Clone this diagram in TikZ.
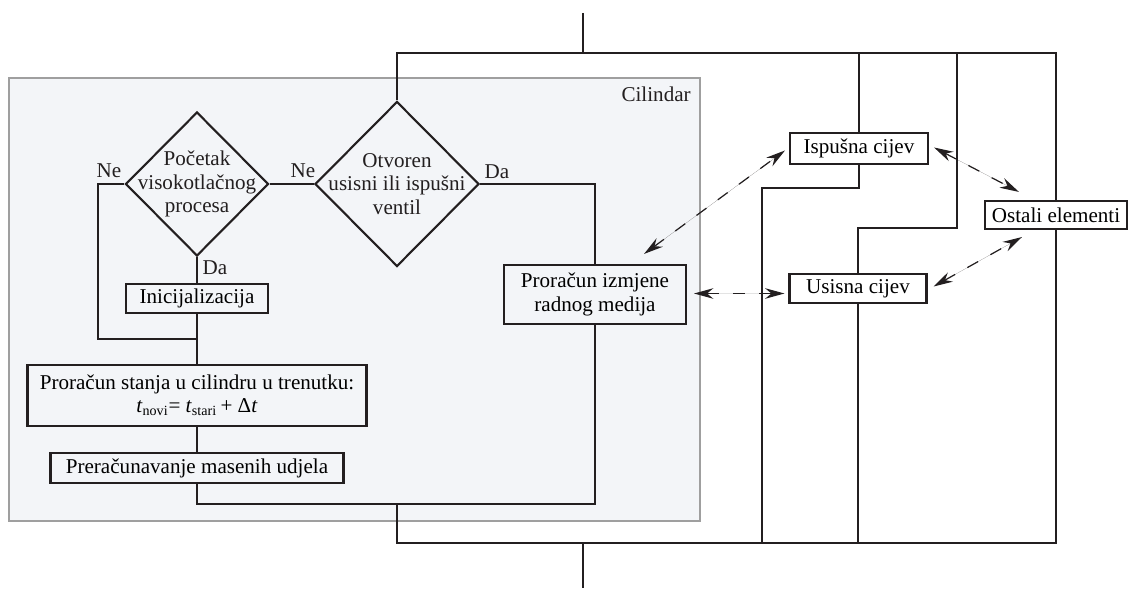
\documentclass[tikz,border=0pt]{standalone}
\usepackage{fontspec}
\setmainfont{Liberation Serif}
\usetikzlibrary{shapes.geometric,arrows.meta}
\definecolor{cylfill}{RGB}{243,245,248}
\definecolor{ink}{RGB}{35,31,32}
\tikzset{
  box/.style  = {rectangle, draw=ink, line width=1.2pt, inner sep=2pt, align=center},
  dia/.style  = {diamond, draw=ink, line width=1.2pt, inner sep=0pt, aspect=1},
  wire/.style = {draw=ink, line width=1.2pt},
  darr/.style = {{Stealth[length=11pt,width=6pt]}-{Stealth[length=11pt,width=6pt]},
                 draw=ink, fill=ink, dash pattern=on 7pt off 8pt, line width=0.7pt},
  lab/.style  = {inner sep=1pt, text=ink}
}

\begin{document}
\begin{tikzpicture}[x=0.02cm, y=-0.02cm, font=\fontsize{12}{13.2}\selectfont]
  \useasboundingbox (0,0) rectangle (1128,590);
  % cylinder frame
  \filldraw[fill=cylfill, draw=gray!75, line width=0.7pt] (9,78) rectangle (700,521);
  \node[lab, anchor=base east, inner sep=0pt] (cyl) at (691,102) {Cilindar};

  % flow inside the cylinder
  \node[dia, minimum width=2.86cm, minimum height=2.88cm] (d1) at (197,184) {};
  \node[lab, align=center] (d1t) at (d1.center) {Početak\\visokotlačnog\\procesa};
  \node[dia, minimum width=3.28cm, minimum height=3.3cm] (d2) at (397,184) {};
  \node[lab, align=center] (d2t) at (d2.center) {Otvoren\\usisni ili ispušni\\ventil};
  \node[box, minimum width=2.84cm, minimum height=0.58cm] (ini) at (197,298.5) {Inicijalizacija};
  \node[box, minimum width=6.78cm, minimum height=1.22cm] (pst) at (197,395.5)
    {Proračun stanja u cilindru u trenutku:\\
     \textit{t}\textsubscript{novi}= \textit{t}\textsubscript{stari}\,+ Δ\textit{t}};
  \node[box, minimum width=5.86cm, minimum height=0.6cm] (pmu) at (197,468) {Preračunavanje masenih udjela};
  \node[box, minimum width=3.64cm, minimum height=1.18cm] (izm) at (595,294.5) {Proračun izmjene\\radnog medija};

  % outer elements
  \node[box, minimum width=2.76cm, minimum height=0.62cm] (isp) at (859,148.5) {Ispušna cijev};
  \node[box, minimum width=2.74cm, minimum height=0.58cm] (usi) at (858,288.5) {Usisna cijev};
  \node[box, minimum width=2.84cm, minimum height=0.56cm, fill=white] (ost) at (1056,215) {Ostali elementi};

  \node[lab] (ne1) at (109,171) {Ne};
  \node[lab] (ne2) at (303,171) {Ne};
  \node[lab] (da1) at (497,172) {Da};
  \node[lab] (da2) at (215,268) {Da};

  \coordinate (top) at (583,13);
  \coordinate (tj) at (583,53);
  \coordinate (bj) at (583,543);
  \coordinate (bot) at (583,588);
  \coordinate (mj) at (397,504);
  \coordinate (lp) at (98,339);
  \coordinate (uj) at (957,228);
  \coordinate (ij) at (762,188);

  % connections
  \draw[wire] (d1.east) -- (d2.west);
  \draw[wire] (d1.south) -- (ini.north);
  \draw[wire] (d1.west) -| (lp) -- (lp -| ini.south);
  \draw[wire] (ini.south) -- (pst.north);
  \draw[wire] (pst.south) -- (pmu.north);
  \draw[wire] (d2.east) -| (izm.north);
  \draw[wire] (pmu.south) |- (mj) -| (izm.south);

  % upper and lower bus
  \draw[wire] (top) -- (tj);
  \draw[wire] (d2.north) -- (d2.north |- tj) -| (ost.north);
  \draw[wire] (isp.north) -- (isp.north |- tj);
  \draw[wire] (uj |- tj) -- (uj) -| (usi.north);
  \draw[wire] (isp.south) |- (ij) -- (ij |- bj);
  \draw[wire] (usi.south) -- (usi.south |- bj);
  \draw[wire] (ost.south) |- (mj |- bj) -- (mj);
  \draw[wire] (bj) -- (bot);

  % exchange between elements
  \draw[darr] ([shift={(-43,-10)}]izm.north east) -- ([shift={(-4,2)}]isp.west);
  \draw[darr] ([shift={(5,-1)}]isp.east) -- ([shift={(35,-8)}]ost.north west);
  \draw[darr] ([shift={(6,-2)}]usi.east) -- ([shift={(38,7)}]ost.south west);
  \draw[darr] ([shift={(7,-1)}]izm.east) -- ([shift={(-4,5)}]usi.west);
\end{tikzpicture}
\end{document}
